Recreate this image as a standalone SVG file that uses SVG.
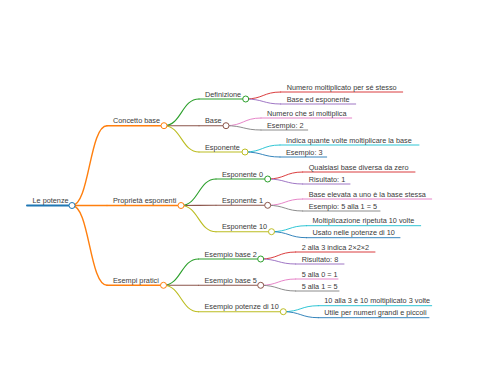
<svg xmlns="http://www.w3.org/2000/svg" width="480" height="384" viewBox="0 0 480 384">
<style>
text{font-family:"Liberation Sans",Arial,sans-serif;font-size:7.3px;fill:#3a3a3a}
path,line{fill:none;stroke-linecap:round}
circle{fill:#fff;stroke-width:1}
.d0{stroke-width:2}.d1{stroke-width:1.4}.d2{stroke-width:1.1}.d3{stroke-width:0.9}
.blue{stroke:#1f77b4}.orange{stroke:#ff7f0e}.green{stroke:#2ca02c}.red{stroke:#d62728}.purple{stroke:#9467bd}.brown{stroke:#8c564b}.pink{stroke:#e377c2}.gray{stroke:#7f7f7f}.olive{stroke:#bcbd22}.cyan{stroke:#17becf}
</style>
<rect width="480" height="384" fill="#fff"/>
<g id="connectors">
<path class="d1 orange" d="M72,205.5 C89.5,205.5 89.5,125.7 107,125.7"/>
<path class="d1 orange" d="M72,205.5 L107,205.5"/>
<path class="d1 orange" d="M72,205.5 C89.5,205.5 89.5,285.3 107,285.3"/>
<path class="d2 green" d="M164,125.7 C181.5,125.7 181.5,99 199,99"/>
<path class="d2 brown" d="M164,125.7 L199,125.7"/>
<path class="d2 olive" d="M164,125.7 C181.5,125.7 181.5,152 199,152"/>
<path class="d2 green" d="M181,205.5 C198.5,205.5 198.5,179 216,179"/>
<path class="d2 brown" d="M181,205.5 C198.5,205.5 198.5,205.3 216,205.3"/>
<path class="d2 olive" d="M181,205.5 C198.5,205.5 198.5,231.7 216,231.7"/>
<path class="d2 green" d="M163.5,285.3 C181,285.3 181,259 198.5,259"/>
<path class="d2 brown" d="M163.5,285.3 L198.5,285.3"/>
<path class="d2 olive" d="M163.5,285.3 C181,285.3 181,311.7 198.5,311.7"/>
<path class="d3 red" d="M245.7,99 C263.2,99 263.2,92 280.7,92"/>
<path class="d3 purple" d="M245.7,99 C263.2,99 263.2,104 280.7,104"/>
<path class="d3 pink" d="M226,125.7 C243.5,125.7 243.5,118 261,118"/>
<path class="d3 gray" d="M226,125.7 C243.5,125.7 243.5,130 261,130"/>
<path class="d3 cyan" d="M245,152 C262.5,152 262.5,145 280,145"/>
<path class="d3 blue" d="M245,152 C262.5,152 262.5,157 280,157"/>
<path class="d3 red" d="M267.7,179 C285.2,179 285.2,172 302.7,172"/>
<path class="d3 purple" d="M267.7,179 C285.2,179 285.2,184 302.7,184"/>
<path class="d3 pink" d="M267.7,205.3 C285.2,205.3 285.2,199 302.7,199"/>
<path class="d3 gray" d="M267.7,205.3 C285.2,205.3 285.2,211 302.7,211"/>
<path class="d3 cyan" d="M271.5,231.7 C289,231.7 289,225.7 306.5,225.7"/>
<path class="d3 blue" d="M271.5,231.7 C289,231.7 289,237.7 306.5,237.7"/>
<path class="d3 red" d="M260.7,259 C278.2,259 278.2,252 295.7,252"/>
<path class="d3 purple" d="M260.7,259 C278.2,259 278.2,264 295.7,264"/>
<path class="d3 pink" d="M260.7,285.3 C278.2,285.3 278.2,279 295.7,279"/>
<path class="d3 gray" d="M260.7,285.3 C278.2,285.3 278.2,291 295.7,291"/>
<path class="d3 cyan" d="M283.3,311.7 C300.8,311.7 300.8,305.7 318.3,305.7"/>
<path class="d3 blue" d="M283.3,311.7 C300.8,311.7 300.8,317.7 318.3,317.7"/>
</g>
<g id="root"><line class="d0 blue" x1="27" y1="205.5" x2="72" y2="205.5"/><circle class="blue" cx="72" cy="205.5" r="3"/><text x="32.5" y="203">Le potenze</text></g>
<g id="concetto"><line class="d1 orange" x1="107" y1="125.7" x2="164" y2="125.7"/><circle class="orange" cx="164" cy="125.7" r="3"/><text x="113" y="123.2">Concetto base</text></g>
<g id="proprieta"><line class="d1 orange" x1="107" y1="205.5" x2="181" y2="205.5"/><circle class="orange" cx="181" cy="205.5" r="3"/><text x="113" y="203">Proprietà esponenti</text></g>
<g id="esempi"><line class="d1 orange" x1="107" y1="285.3" x2="163.5" y2="285.3"/><circle class="orange" cx="163.5" cy="285.3" r="3"/><text x="113" y="282.8">Esempi pratici</text></g>
<g id="definizione"><line class="d2 green" x1="199" y1="99" x2="245.7" y2="99"/><circle class="green" cx="245.7" cy="99" r="3"/><text x="205" y="96.5">Definizione</text></g>
<g id="base"><line class="d2 brown" x1="199" y1="125.7" x2="226" y2="125.7"/><circle class="brown" cx="226" cy="125.7" r="3"/><text x="205" y="123.2">Base</text></g>
<g id="esponente"><line class="d2 olive" x1="199" y1="152" x2="245" y2="152"/><circle class="olive" cx="245" cy="152" r="3"/><text x="205" y="149.5">Esponente</text></g>
<g id="esp0"><line class="d2 green" x1="216" y1="179" x2="267.7" y2="179"/><circle class="green" cx="267.7" cy="179" r="3"/><text x="222" y="176.5">Esponente 0</text></g>
<g id="esp1"><line class="d2 brown" x1="216" y1="205.3" x2="267.7" y2="205.3"/><circle class="brown" cx="267.7" cy="205.3" r="3"/><text x="222" y="202.8">Esponente 1</text></g>
<g id="esp10"><line class="d2 olive" x1="216" y1="231.7" x2="271.5" y2="231.7"/><circle class="olive" cx="271.5" cy="231.7" r="3"/><text x="222" y="229.2">Esponente 10</text></g>
<g id="eb2"><line class="d2 green" x1="198.5" y1="259" x2="260.7" y2="259"/><circle class="green" cx="260.7" cy="259" r="3"/><text x="204.5" y="256.5">Esempio base 2</text></g>
<g id="eb5"><line class="d2 brown" x1="198.5" y1="285.3" x2="260.7" y2="285.3"/><circle class="brown" cx="260.7" cy="285.3" r="3"/><text x="204.5" y="282.8">Esempio base 5</text></g>
<g id="ep10"><line class="d2 olive" x1="198.5" y1="311.7" x2="283.3" y2="311.7"/><circle class="olive" cx="283.3" cy="311.7" r="3"/><text x="204.5" y="309.2">Esempio potenze di 10</text></g>
<g id="l1"><line class="d3 red" x1="280.7" y1="92" x2="402.7" y2="92"/><text x="286.7" y="89.5">Numero moltiplicato per sé stesso</text></g>
<g id="l2"><line class="d3 purple" x1="280.7" y1="104" x2="355.7" y2="104"/><text x="286.7" y="101.5">Base ed esponente</text></g>
<g id="l3"><line class="d3 pink" x1="261" y1="118" x2="351.7" y2="118"/><text x="267" y="115.5">Numero che si moltiplica</text></g>
<g id="l4"><line class="d3 gray" x1="261" y1="130" x2="307.7" y2="130"/><text x="267" y="127.5">Esempio: 2</text></g>
<g id="l5"><line class="d3 cyan" x1="280" y1="145" x2="419" y2="145"/><text x="286" y="142.5">Indica quante volte moltiplicare la base</text></g>
<g id="l6"><line class="d3 blue" x1="280" y1="157" x2="326.7" y2="157"/><text x="286" y="154.5">Esempio: 3</text></g>
<g id="l7"><line class="d3 red" x1="302.7" y1="172" x2="415" y2="172"/><text x="308.7" y="169.5">Qualsiasi base diversa da zero</text></g>
<g id="l8"><line class="d3 purple" x1="302.7" y1="184" x2="350" y2="184"/><text x="308.7" y="181.5">Risultato: 1</text></g>
<g id="l9"><line class="d3 pink" x1="302.7" y1="199" x2="431.7" y2="199"/><text x="308.7" y="196.5">Base elevata a uno è la base stessa</text></g>
<g id="l10"><line class="d3 gray" x1="302.7" y1="211" x2="380" y2="211"/><text x="308.7" y="208.5">Esempio: 5 alla 1 = 5</text></g>
<g id="l11"><line class="d3 cyan" x1="306.5" y1="225.7" x2="420.7" y2="225.7"/><text x="312.5" y="223.2">Moltiplicazione ripetuta 10 volte</text></g>
<g id="l12"><line class="d3 blue" x1="306.5" y1="237.7" x2="400" y2="237.7"/><text x="312.5" y="235.2">Usato nelle potenze di 10</text></g>
<g id="l13"><line class="d3 red" x1="295.7" y1="252" x2="375" y2="252"/><text x="301.7" y="249.5">2 alla 3 indica 2×2×2</text></g>
<g id="l14"><line class="d3 purple" x1="295.7" y1="264" x2="344" y2="264"/><text x="301.7" y="261.5">Risultato: 8</text></g>
<g id="l15"><line class="d3 pink" x1="295.7" y1="279" x2="338" y2="279"/><text x="301.7" y="276.5">5 alla 0 = 1</text></g>
<g id="l16"><line class="d3 gray" x1="295.7" y1="291" x2="339" y2="291"/><text x="301.7" y="288.5">5 alla 1 = 5</text></g>
<g id="l17"><line class="d3 cyan" x1="318.3" y1="305.7" x2="431.7" y2="305.7"/><text x="324.3" y="303.2">10 alla 3 è 10 moltiplicato 3 volte</text></g>
<g id="l18"><line class="d3 blue" x1="318.3" y1="317.7" x2="429" y2="317.7"/><text x="324.3" y="315.2">Utile per numeri grandi e piccoli</text></g>
</svg>
